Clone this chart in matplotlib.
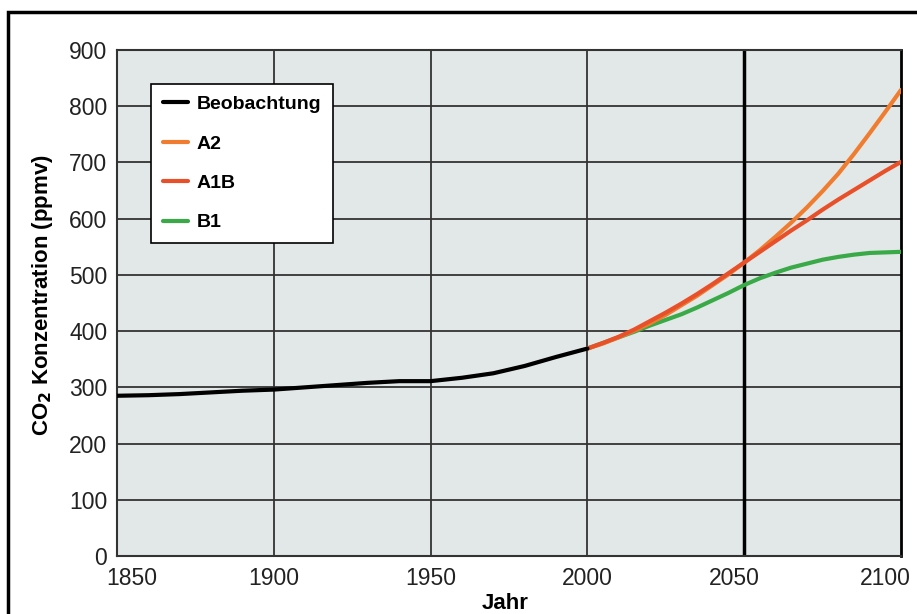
import matplotlib as mpl
mpl.use('Agg')
import matplotlib.pyplot as plt
import matplotlib.transforms as mtransforms
from matplotlib.patches import Rectangle

plt.rcParams['font.family'] = ['Liberation Sans', 'DejaVu Sans']

obs_years = [1850, 1860, 1870, 1880, 1890, 1900, 1910, 1920, 1930, 1940, 1950,
             1960, 1970, 1980, 1990, 2000]
obs_vals = [285, 286, 288, 291, 294, 296, 300, 304, 308, 311, 311,
            317, 325, 338, 354, 369]

scen_years = list(range(2000, 2101, 5))
a2_vals = [369, 378, 389, 401, 414, 429, 446, 463, 482, 501, 522,
           544, 568, 593, 620, 649, 680, 715, 752, 790, 829]
a1b_vals = [369, 379, 390, 403, 418, 433, 449, 466, 484, 503, 522,
            541, 560, 579, 597, 616, 634, 651, 668, 685, 701]
b1_vals = [369, 379, 389, 399, 410, 420, 430, 442, 455, 468, 482,
           494, 504, 513, 520, 527, 532, 536, 539, 540, 541]

xticks = [1850, 1900, 1950, 2000, 2050, 2100]
yticks = [0, 100, 200, 300, 400, 500, 600, 700, 800, 900]

fig = plt.figure(figsize=(9.17, 6.14), dpi=100)
W, H = 917, 614
ax = fig.add_axes([117 / W, 1 - 556 / H, (901 - 117) / W, (556 - 50) / H])
ax.set_facecolor('#e2e8e8')

# outer frame (cut off at right and bottom)
fig.patches.append(Rectangle((8 / W, -0.1), 1.2, (614 - 12) / H + 0.1,
                             transform=fig.transFigure, fill=False,
                             edgecolor='black', linewidth=2.5))

for y in yticks[1:-1]:
    ax.axhline(y, color='#333333', linewidth=1.3, zorder=1)
for x in xticks[1:-1]:
    lw = 2.5 if x == 2050 else 1.3
    c = 'black' if x == 2050 else '#333333'
    ax.axvline(x, color=c, linewidth=lw, zorder=1)

kw = dict(linewidth=3, solid_joinstyle='round', solid_capstyle='round')
ax.plot(scen_years, b1_vals, color='#3aaa48', label='B1', zorder=3, **kw)
ax.plot(scen_years, a2_vals, color='#f07c30', label='A2', zorder=3, **kw)
ax.plot(scen_years, a1b_vals, color='#e8502a', label='A1B', zorder=4, **kw)
ax.plot(obs_years, obs_vals, color='black', label='Beobachtung', zorder=5, **kw)

ax.set_xlim(1850, 2100)
ax.set_ylim(0, 900)
ax.set_xticks(xticks)
ax.set_yticks(yticks)
ax.tick_params(length=0, labelsize=16.5, colors='#222222', pad=7)
ax.tick_params(axis='x', pad=8)
for s in ax.spines.values():
    s.set_color('#333333')
    s.set_linewidth(1.5)
ax.spines['right'].set_color('black')
ax.spines['right'].set_linewidth(2)

# squeeze outer x labels inward like the original
shifts = {1850: 15, 2050: -10, 2100: -16}
for val, lab in zip(xticks, ax.get_xticklabels()):
    if val in shifts:
        lab.set_transform(lab.get_transform() +
                          mtransforms.ScaledTranslation(shifts[val] / 100, 0, fig.dpi_scale_trans))

ax.set_xlabel('Jahr', fontsize=16, fontweight='bold', va='baseline')
ax.xaxis.set_label_coords(0.495, -0.105)
ax.set_ylabel('CO$_\\mathbf{2}$ Konzentration (ppmv)', fontsize=16, fontweight='bold')
ax.yaxis.set_label_coords(-0.079, 0.516)

handles, labels = ax.get_legend_handles_labels()
order = [3, 1, 2, 0]
leg = ax.legend([handles[i] for i in order], [labels[i] for i in order],
                loc='upper left', bbox_to_anchor=((151 - 117) / 784, (556 - 84) / 506),
                fancybox=False, framealpha=1, edgecolor='black',
                prop={'weight': 'bold', 'size': 14}, handlelength=1.3,
                handletextpad=0.45, labelspacing=1.12, borderpad=0.6, borderaxespad=0)
leg.get_frame().set_linewidth(1.2)

fig.savefig('out.png', dpi=100)
